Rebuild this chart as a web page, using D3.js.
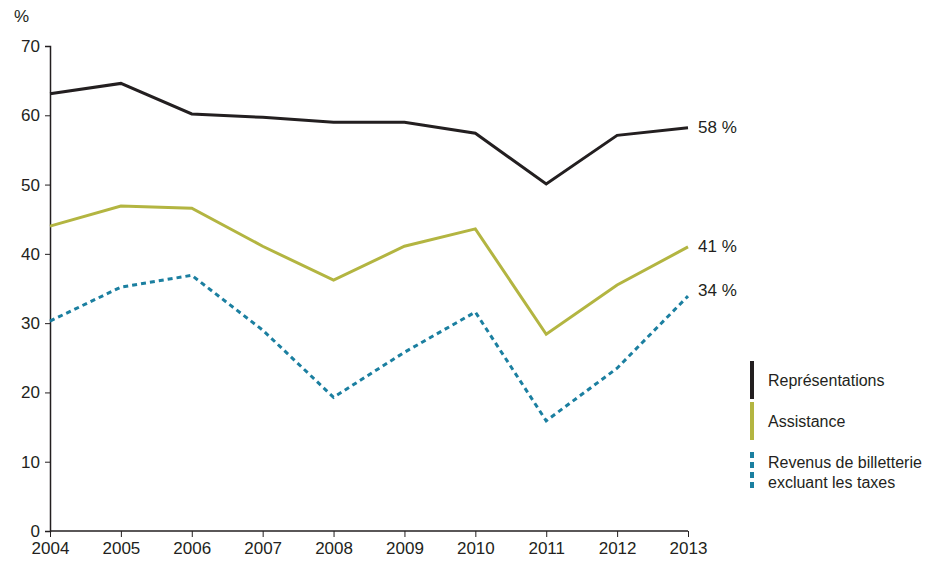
<html>
<head>
<script src="https://d3js.org/d3.v7.min.js"></script>
<style>body{margin:0;background:#fff;font-family:Arial,"Liberation Sans",sans-serif;}</style>
</head>
<body>
<script>
var years = [2004, 2005, 2006, 2007, 2008, 2009, 2010, 2011, 2012, 2013];
var representations = [63.1, 64.6, 60.2, 59.7, 59.0, 59.0, 57.4, 50.1, 57.1, 58.2];
var assistance = [44.0, 46.9, 46.6, 41.1, 36.2, 41.1, 43.6, 28.4, 35.5, 41.0];
var revenus = [30.3, 35.2, 36.9, 29.0, 19.3, 25.8, 31.6, 15.9, 23.5, 33.9];
var endLabels = ["58 %", "41 %", "34 %"];
var legendLabels = [["Représentations"], ["Assistance"], ["Revenus de billetterie", "excluant les taxes"]];
var yTicks = [0, 10, 20, 30, 40, 50, 60, 70];

var colors = ["#231f20", "#b3b541", "#1b7fa0"];
var series = [representations, assistance, revenus];

var svg = d3.select("body").append("svg").attr("width", 950).attr("height", 568);

var x = d3.scaleLinear().domain([2004, 2013]).range([50, 688]);
var y = d3.scaleLinear().domain([0, 70]).range([531, 46]);

// axes
var ya = svg.append("g").attr("transform", "translate(50,0)")
  .call(d3.axisLeft(y).tickValues(yTicks).tickSize(5).tickFormat(d3.format("d")));
var xa = svg.append("g").attr("transform", "translate(0,531)")
  .call(d3.axisBottom(x).tickValues(years).tickSize(6).tickFormat(d3.format("d")));
[ya, xa].forEach(function(a){
  a.select(".domain").attr("stroke", "#231f20").attr("stroke-width", 1.5);
  a.selectAll("line").attr("stroke", "#231f20");
  a.selectAll("text").attr("fill", "#231f20").style("font-size", "17px").style("font-family", "Arial, 'Liberation Sans', sans-serif");
});
xa.select(".domain").attr("d", "M50,0H688");
xa.selectAll("text").attr("dy", "0.85em");
ya.selectAll("text").attr("x", -10);
svg.append("text").attr("x", 14).attr("y", 22).text("%").style("font-size", "17px").attr("fill", "#231f20");

var line = d3.line().x(function(d, i){ return x(years[i]); }).y(function(d){ return y(d); });

series.forEach(function(s, k){
  svg.append("path").datum(s).attr("d", line).attr("fill", "none")
    .attr("stroke", colors[k]).attr("stroke-width", 3)
    .attr("stroke-dasharray", k === 2 ? "5,4" : null);
  svg.append("text").attr("x", x(2013) + 10).attr("y", y(s[s.length - 1]) + (k === 2 ? 0 : 5))
    .text(endLabels[k]).style("font-size", "17px").attr("fill", "#231f20");
});

// legend
var ly = [361, 402, 452];
legendLabels.forEach(function(lab, k){
  var h = lab.length > 1 ? 40 : 38;
  svg.append("line").attr("x1", 752).attr("x2", 752).attr("y1", ly[k]).attr("y2", ly[k] + h)
    .attr("stroke", colors[k]).attr("stroke-width", 4)
    .attr("stroke-dasharray", k === 2 ? "6,4" : null);
  lab.forEach(function(t, j){
    svg.append("text").attr("x", 768).attr("y", ly[k] + (lab.length > 1 ? 16 : 25) + j * 20).text(t)
      .style("font-size", "16px").attr("fill", "#231f20");
  });
});
</script>
</body>
</html>
